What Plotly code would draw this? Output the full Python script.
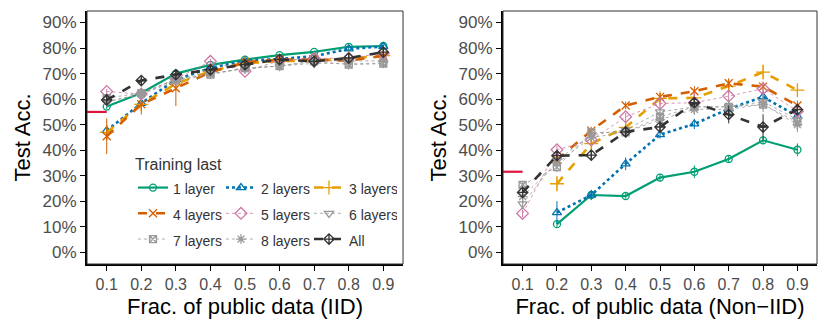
import plotly.graph_objects as go

# Fração de dados públicos (eixo x)
fracs = [0.1, 0.2, 0.3, 0.4, 0.5, 0.6, 0.7, 0.8, 0.9]
series_names = ['1 layer', '2 layers', '3 layers', '4 layers', '5 layers',
                '6 layers', '7 layers', '8 layers', 'All']

# Acurácia (%) - cenário IID
iid_1 = [57.1, 62.4, 70.0, 73.4, 75.5, 77.2, 78.5, 80.5, 80.8]
iid_2 = [47.7, 58.4, 67.6, 72.2, 75.1, 75.7, 76.8, 79.7, 80.6]
iid_3 = [47.0, 58.0, 66.0, 71.0, 74.0, 75.0, 75.0, 76.0, 77.0]
iid_4 = [45.5, 58.0, 64.3, 70.5, 74.5, 75.5, 75.5, 75.0, 77.0]
iid_5 = [63.0, 62.0, 68.0, 74.8, 70.9, 75.0, 76.0, 76.0, 78.0]
iid_6 = [59.0, 62.0, 67.0, 70.0, 72.0, 73.0, 74.0, 74.0, 74.0]
iid_7 = [60.4, 62.4, 67.6, 69.6, 72.2, 72.9, 74.8, 73.5, 73.9]
iid_8 = [59.0, 62.0, 68.0, 70.0, 72.0, 73.0, 75.0, 75.0, 75.0]
iid_all = [59.7, 67.3, 69.6, 71.5, 73.5, 75.5, 74.8, 76.1, 78.4]

iid_err_1 = [1.0, 1.0, 1.0, 0.8, 0.5, 0.5, 0.5, 0.5, 0.5]
iid_err_2 = [2.0, 1.5, 1.5, 1.0, 1.0, 1.0, 1.0, 0.8, 0.8]
iid_err_3 = [3.0, 2.0, 2.0, 1.0, 1.0, 1.0, 1.0, 1.0, 1.0]
iid_err_4 = [7.0, 4.0, 7.0, 1.5, 1.0, 1.0, 1.0, 1.0, 1.0]
iid_err_5 = [1.0, 1.0, 1.0, 1.0, 1.0, 1.0, 1.0, 1.0, 1.0]
iid_err_6 = [1.5, 1.5, 1.5, 1.5, 1.5, 1.5, 1.5, 1.5, 1.5]
iid_err_7 = [2.0, 2.0, 1.5, 1.5, 2.0, 2.0, 1.5, 2.0, 1.5]
iid_err_8 = [1.5, 1.5, 1.5, 1.5, 1.5, 1.5, 1.5, 1.5, 1.5]
iid_err_all = [1.0, 1.0, 1.0, 1.0, 1.0, 1.0, 1.0, 1.0, 1.0]

# Acurácia (%) - cenário Non-IID
non_1 = [None, 11.1, 22.5, 22.1, 29.3, 31.6, 36.6, 43.9, 40.2]
non_2 = [None, 15.6, 22.5, 34.7, 46.1, 50.3, 56.2, 60.9, 53.3]
non_3 = [None, 26.9, 42.6, 49.0, 60.3, 60.5, 65.1, 70.6, 63.5]
non_4 = [None, 36.3, 47.7, 57.5, 60.9, 63.1, 66.2, 64.9, 57.5]
non_5 = [15.3, 40.2, 44.0, 53.1, 58.3, 58.6, 61.2, 64.1, 55.3]
non_6 = [19.0, 36.0, 46.0, 48.0, 55.0, 57.0, 57.0, 59.0, 52.0]
non_7 = [26.5, 33.4, 47.0, 47.0, 53.1, 57.0, 57.0, 57.9, 51.0]
non_8 = [21.9, 35.0, 45.0, 47.0, 52.0, 56.0, 56.0, 58.0, 50.0]
non_all = [23.5, 37.9, 38.1, 47.2, 49.1, 58.6, 54.0, 49.1, 55.9]

non_err_1 = [0, 1.5, 1.5, 1.0, 1.5, 2.5, 1.5, 1.5, 2.5]
non_err_2 = [0, 4.5, 2.0, 2.5, 1.5, 2.0, 3.0, 2.0, 2.0]
non_err_3 = [0, 3.0, 2.0, 2.0, 2.0, 2.0, 2.0, 3.0, 2.0]
non_err_4 = [0, 2.0, 1.5, 1.5, 1.5, 2.0, 2.0, 2.0, 2.0]
non_err_5 = [1.5, 1.5, 1.5, 1.5, 2.0, 4.0, 2.0, 2.0, 2.0]
non_err_6 = [2.0, 2.0, 2.0, 2.0, 2.0, 2.0, 2.0, 2.0, 2.0]
non_err_7 = [1.5, 2.0, 2.0, 2.0, 2.0, 3.0, 3.0, 3.0, 3.0]
non_err_8 = [2.0, 2.0, 2.0, 2.0, 2.0, 2.0, 2.0, 2.0, 3.0]
non_err_all = [2.0, 2.0, 2.0, 2.0, 2.0, 2.0, 3.5, 5.0, 2.0]

# Linha de referência (segmento vermelho até x = 0.1)
baseline_x = [0.043, 0.1]
baseline_iid = [55.0, 55.0]
baseline_non = [31.6, 31.6]

iid_values = [iid_1, iid_2, iid_3, iid_4, iid_5, iid_6, iid_7, iid_8, iid_all]
iid_errors = [iid_err_1, iid_err_2, iid_err_3, iid_err_4, iid_err_5,
              iid_err_6, iid_err_7, iid_err_8, iid_err_all]
non_values = [non_1, non_2, non_3, non_4, non_5, non_6, non_7, non_8, non_all]
non_errors = [non_err_1, non_err_2, non_err_3, non_err_4, non_err_5,
              non_err_6, non_err_7, non_err_8, non_err_all]

# Estilo de cada série (cor, símbolo, traço, espessura)
styles = [
    dict(color='#009E73', symbol='circle-open', dash='solid', width=2.2, size=7),
    dict(color='#0072B2', symbol='triangle-up-open', dash='dot', width=2.6, size=8),
    dict(color='#E69F00', symbol='cross-thin-open', dash='dash', width=2.6, size=10),
    dict(color='#D55E00', symbol='x-thin-open', dash='dash', width=2.6, size=8),
    dict(color='#CC79A7', symbol='diamond-open', dash='dot', width=0.8, size=9),
    dict(color='#999999', symbol='triangle-down-open', dash='dot', width=0.8, size=8),
    dict(color='#999999', symbol='square-x-open', dash='dot', width=0.8, size=7),
    dict(color='#999999', symbol='asterisk-open', dash='dot', width=0.8, size=8),
    dict(color='#333333', symbol='diamond-cross-open', dash='dash', width=2.6, size=8),
]
# Colunas da legenda (3 x 3)
legend_cols = ['c1', 'c2', 'c3', 'c1', 'c2', 'c3', 'c1', 'c2', 'c3']

FONT = 'Liberation Sans, Arial, sans-serif'

fig = go.Figure()

def add_panel(values, errors, xaxis, yaxis, show_legend):
    for name, vals, errs, st, col in zip(series_names, values, errors, styles, legend_cols):
        fig.add_trace(go.Scatter(
            x=fracs, y=[v / 100 if v is not None else None for v in vals],
            name=f'<span style="font-size:14px">{name}</span>',
            legendgroup=col, showlegend=show_legend,
            mode='lines+markers', xaxis=xaxis, yaxis=yaxis,
            line=dict(color=st['color'], dash=st['dash'], width=st['width']),
            marker=dict(symbol=st['symbol'], size=st['size'], color=st['color'],
                        line=dict(color=st['color'], width=1.3)),
            error_y=dict(type='data', array=[e / 100 for e in errs], width=0,
                         thickness=1, color=st['color']),
        ))

add_panel(iid_values, iid_errors, 'x', 'y', True)
add_panel(non_values, non_errors, 'x2', 'y2', False)

for yvals, xa, ya in [(baseline_iid, 'x', 'y'), (baseline_non, 'x2', 'y2')]:
    fig.add_trace(go.Scatter(x=baseline_x, y=[v / 100 for v in yvals], mode='lines',
                             xaxis=xa, yaxis=ya, showlegend=False,
                             line=dict(color='#DC143C', width=2.2)))

axis_common = dict(showline=True, linecolor='black', linewidth=2, showgrid=False,
                   zeroline=False, ticks='outside', ticklen=5, tickwidth=1.3,
                   tickcolor='black')
x_font = dict(size=16, color='#4D4D4D', family=FONT)
y_font = dict(size=17, color='#4D4D4D', family=FONT)

x_range = [0.043, 0.957]
y_range = [-0.045, 0.945]
fig.update_layout(
    xaxis=dict(domain=[0, 0.4329], range=x_range, tickvals=fracs, tickfont=x_font,
               title=dict(text='Frac. of public data (IID)', font=dict(size=22, color='black'), standoff=6),
               anchor='y', **axis_common),
    xaxis2=dict(domain=[0.5699, 1], range=x_range, tickvals=fracs, tickfont=x_font,
                title=dict(text='Frac. of public data (Non\u2212IID)', font=dict(size=22, color='black'), standoff=6),
                anchor='y2', **axis_common),
    yaxis=dict(range=y_range, dtick=0.1, tick0=0, tickformat='.0%', tickfont=y_font,
               title=dict(text='Test Acc.', font=dict(size=22, color='black'), standoff=6),
               anchor='x', **axis_common),
    yaxis2=dict(range=y_range, dtick=0.1, tick0=0, tickformat='.0%', tickfont=y_font,
                title=dict(text='Test Acc.', font=dict(size=22, color='black'), standoff=6),
                anchor='x2', **axis_common),
)

# Caixa fina em volta de cada painel
for xr, yr in [('x domain', 'y domain'), ('x2 domain', 'y2 domain')]:
    fig.add_shape(type='rect', xref=xr, yref=yr, x0=0, x1=1, y0=0, y1=1,
                  line=dict(color='#333333', width=1))

fig.update_layout(
    width=830, height=331,
    margin=dict(l=87, r=13, t=11, b=67),
    paper_bgcolor='white', plot_bgcolor='white',
    font=dict(family=FONT, color='black'),
    legend=dict(orientation='h', x=0.063, y=0.455, xanchor='left', yanchor='top',
                bgcolor='rgba(0,0,0,0)', traceorder='grouped', tracegroupgap=0,
                entrywidth=43, entrywidthmode='pixels',
                title=dict(text='Training last', side='top', font=dict(size=16, color='#333333')),
                font=dict(size=17.5, color='#333333')),
)

# Remove a margem padrão do <body> para a figura ocupar a janela toda
fig.write_html("out.html", config={'displayModeBar': False},
               post_script="document.body.style.margin='0px';")
